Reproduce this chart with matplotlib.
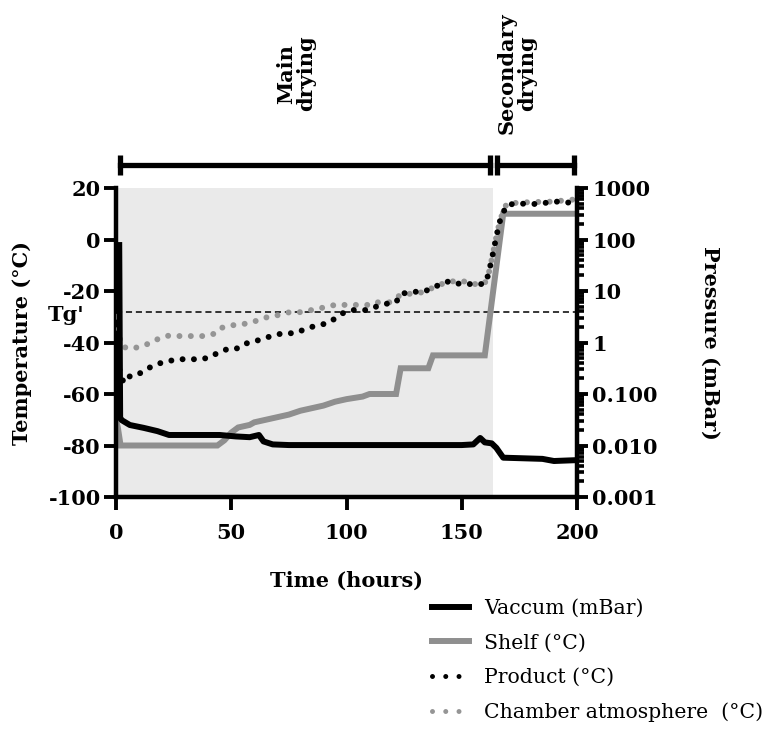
import matplotlib
matplotlib.use("Agg")
import matplotlib.pyplot as plt
import matplotlib.transforms as mtransforms
from matplotlib.lines import Line2D
from matplotlib.ticker import FixedLocator, FixedFormatter, LogLocator, NullFormatter

plt.rcParams["font.family"] = ["DejaVu Serif"]
plt.rcParams["axes.unicode_minus"] = False

# ---- data -------------------------------------------------------------
# Shelf temperature (°C)
shelf_time = [0, 0.8, 2, 44, 47, 50, 53, 58, 60, 65, 70, 75, 80, 85, 90, 95,
              100, 107, 110, 121.5, 123.5, 135.5, 137.5, 160, 168, 200]
shelf_temp = [-70, -73, -80, -80, -78, -75, -73, -72, -71, -70, -69, -68, -66.5,
              -65.5, -64.5, -63, -62, -61, -60, -60, -50, -50, -45, -45, 10, 10]

# Chamber vacuum (mBar)
vac_time = [1.4, 1.8, 2.5, 6, 12, 18, 23, 45, 52, 58, 62, 64, 68, 75, 100, 150,
            155, 158, 160, 163, 165, 168, 185, 190, 200]
vac_pressure = [78, 0.034, 0.031, 0.025, 0.022, 0.019, 0.016, 0.016, 0.015,
                0.0145, 0.016, 0.012, 0.0105, 0.0102, 0.0102, 0.0102, 0.0105,
                0.014, 0.0115, 0.011, 0.009, 0.0058, 0.0055, 0.0050, 0.0052]

# Product temperature (°C)
prod_time = [0, 0.5, 1, 2, 3.5, 6.5, 9.5, 11.8, 15, 18, 22, 26.6, 31.8, 37.2,
             41.5, 44.7, 48.7, 52.1, 55.2, 59.9, 63.9, 68, 72.3, 77.7, 81.5,
             84.2, 88.5, 92.5, 95.7, 99, 103, 108.5, 112.8, 117, 121.5, 123.5,
             127.8, 133, 137.4, 140.6, 145, 149.2, 154.3, 159.8, 161.5, 163.4,
             165.2, 166.8, 169.5, 173.8, 179.3, 183.9, 189, 194, 198.4, 200]
prod_temp = [-33, -42, -48, -53, -55.7, -52.6, -52.2, -51.5, -49.5, -48.3,
             -47.4, -46.5, -46.5, -46.5, -45.5, -43.6, -42.5, -42.5, -40.6,
             -39.7, -38.4, -37.4, -36.4, -36.4, -35, -34.1, -33.2, -32.3,
             -30.2, -28.3, -27.4, -27.4, -26.1, -25.0, -24.4, -21.2, -20.3,
             -20.3, -19.0, -17.3, -16.1, -17.3, -17.3, -17.3, -13.8, -6, 2, 8,
             13.4, 14.0, 13.8, 13.8, 14.7, 14.7, 14.0, 14.5]

# Chamber atmosphere temperature (°C)
chamber_time = [0, 1, 2.6, 7.4, 10, 14.8, 18.7, 22.6, 28.1, 33.5, 38.9, 43.4,
                46.3, 50.6, 55.5, 59.9, 61.3, 66.2, 70.8, 75, 80.6, 86.3, 90.7,
                95, 111.4, 113.4, 118.6, 123.5, 133, 140.6, 145, 150.4, 154.3,
                159.8, 161.5, 163.4, 165.2, 166.8, 169.5, 179.3, 189, 198.4, 200]
chamber_temp = [-30, -36, -41.7, -42.4, -41.6, -40.3, -38.4, -37.4, -37.5,
                -37.5, -37.5, -36.4, -34.1, -33.3, -32.8, -31.9, -31.4, -30.0,
                -29.3, -28.3, -28.2, -27.1, -26.3, -25.4, -25.4, -24.4, -24.4,
                -21.5, -20.5, -17.5, -16.3, -16.1, -17.3, -17.3, -14, -6, 2, 8,
                14, 14.5, 14.7, 15.5, 15]

tg_prime = -28
main_drying_end = 163.5
phase_labels = ["Main\ndrying", "Secondary\ndrying"]
phase_spans = [(1.7, 162.3), (165.3, 198.7)]
phase_label_x = [78, 174]

temp_ticks = [-100, -80, -60, -40, -20, 0, 20]
time_ticks = [0, 50, 100, 150, 200]
pressure_ticks = [0.001, 0.01, 0.1, 1, 10, 100, 1000]
pressure_labels = ["0.001", "0.010", "0.100", "1", "10", "100", "1000"]

legend_labels = ["Vaccum (mBar)", "Shelf (°C)", "Product (°C)",
                 "Chamber atmosphere  (°C)"]

# ---- styling -----------------------------------------------------------
GREY = "#8f8f8f"
DOT_GREY = "#959595"
BAND = "#eaeaea"
LW = 4.3
DOTS = (0, (0.001, 1.9))
FS = 15

fig = plt.figure(figsize=(7.79, 7.29), dpi=100)
ax = fig.add_axes([116 / 779, 1 - 497 / 729, 461 / 779, 309 / 729])
ax2 = ax.twinx()

# primary drying band
ax.axvspan(0, main_drying_end, color=BAND, zorder=0, lw=0)
ax.axhline(tg_prime, color="black", lw=1.1, ls=(0, (4, 2.5)), zorder=1)

ax.plot(shelf_time, shelf_temp, color=GREY, lw=LW, solid_joinstyle="miter",
        zorder=2)
ax.plot(chamber_time, chamber_temp, color=DOT_GREY, lw=LW, ls=DOTS,
        dash_capstyle="round", zorder=3)
ax.plot(prod_time, prod_temp, color="black", lw=LW, ls=DOTS,
        dash_capstyle="round", zorder=4)

ax2.plot(vac_time, vac_pressure, color="black", lw=LW, zorder=5)

# axes ranges and ticks
ax.set_xlim(0, 200)
ax.set_ylim(-100, 20)
ax2.set_yscale("log")
ax2.set_ylim(0.001, 1000)

ax.xaxis.set_major_locator(FixedLocator(time_ticks))
ax.yaxis.set_major_locator(FixedLocator(temp_ticks))
ax.set_xticklabels([str(t) for t in time_ticks])
ax.set_yticklabels([str(t) for t in temp_ticks])
ax2.yaxis.set_major_locator(FixedLocator(pressure_ticks))
ax2.yaxis.set_major_formatter(FixedFormatter(pressure_labels))
ax2.yaxis.set_minor_locator(LogLocator(base=10, subs=range(2, 10)))
ax2.yaxis.set_minor_formatter(NullFormatter())

for a in (ax, ax2):
    for s in a.spines.values():
        s.set_linewidth(3.2)
    a.spines["top"].set_visible(False)
ax.spines["right"].set_visible(False)
ax2.spines["left"].set_visible(False)
ax2.spines["bottom"].set_visible(False)

ax.tick_params(axis="x", which="major", direction="out", length=9,
               width=2.8, pad=10)
ax.tick_params(axis="y", which="major", direction="out", length=9,
               width=2.8, pad=2)
ax2.tick_params(axis="y", which="major", direction="out", length=8,
                width=2.8, pad=3)
ax2.tick_params(axis="y", which="minor", direction="out", length=5,
                width=2.6)
for lab in ax.get_xticklabels() + ax.get_yticklabels() + ax2.get_yticklabels():
    lab.set_fontsize(FS)
    lab.set_fontweight("bold")

ax.set_xlabel("Time (hours)", fontsize=FS, fontweight="bold", labelpad=20)
ax.set_ylabel("Temperature (°C)", fontsize=FS, fontweight="bold", labelpad=12)
ax2.set_ylabel("Pressure (mBar)", fontsize=FS, fontweight="bold",
               rotation=-90, labelpad=45)

# Tg' marker on the temperature axis
ax.text(-0.068, tg_prime - 1.2, "Tg'",
        transform=mtransforms.blended_transform_factory(ax.transAxes, ax.transData),
        ha="right", va="center", fontsize=FS, fontweight="bold")

# drying phase brackets and labels above the plot
blend = mtransforms.blended_transform_factory(ax.transData, ax.transAxes)
for (x0, x1), label, lx in zip(phase_spans, phase_labels, phase_label_x):
    ax.plot([x0, x1], [1.074, 1.074], color="black", lw=3.8, marker="|",
            ms=14, mew=3.8, transform=blend, clip_on=False)
    ax.text(lx, 1.37, label, transform=blend, rotation=90, ha="center",
            va="center", multialignment="center", fontsize=FS,
            fontweight="bold", linespacing=1.0)

# legend
LEG_DOTS = (0, (0.001, 2.65))
handles = [
    Line2D([], [], color="black", lw=LW),
    Line2D([], [], color=GREY, lw=LW),
    Line2D([], [], color="black", lw=3.6, ls=LEG_DOTS, dash_capstyle="round"),
    Line2D([], [], color=DOT_GREY, lw=3.6, ls=LEG_DOTS, dash_capstyle="round"),
]
fig.legend(handles, legend_labels, loc="upper left",
           bbox_to_anchor=(432 / 779, 1 - 599 / 729), frameon=False,
           fontsize=14.7, handlelength=1.8, handletextpad=0.75,
           labelspacing=0.76, borderaxespad=0, borderpad=0)

fig.savefig("out.png", dpi=100)
